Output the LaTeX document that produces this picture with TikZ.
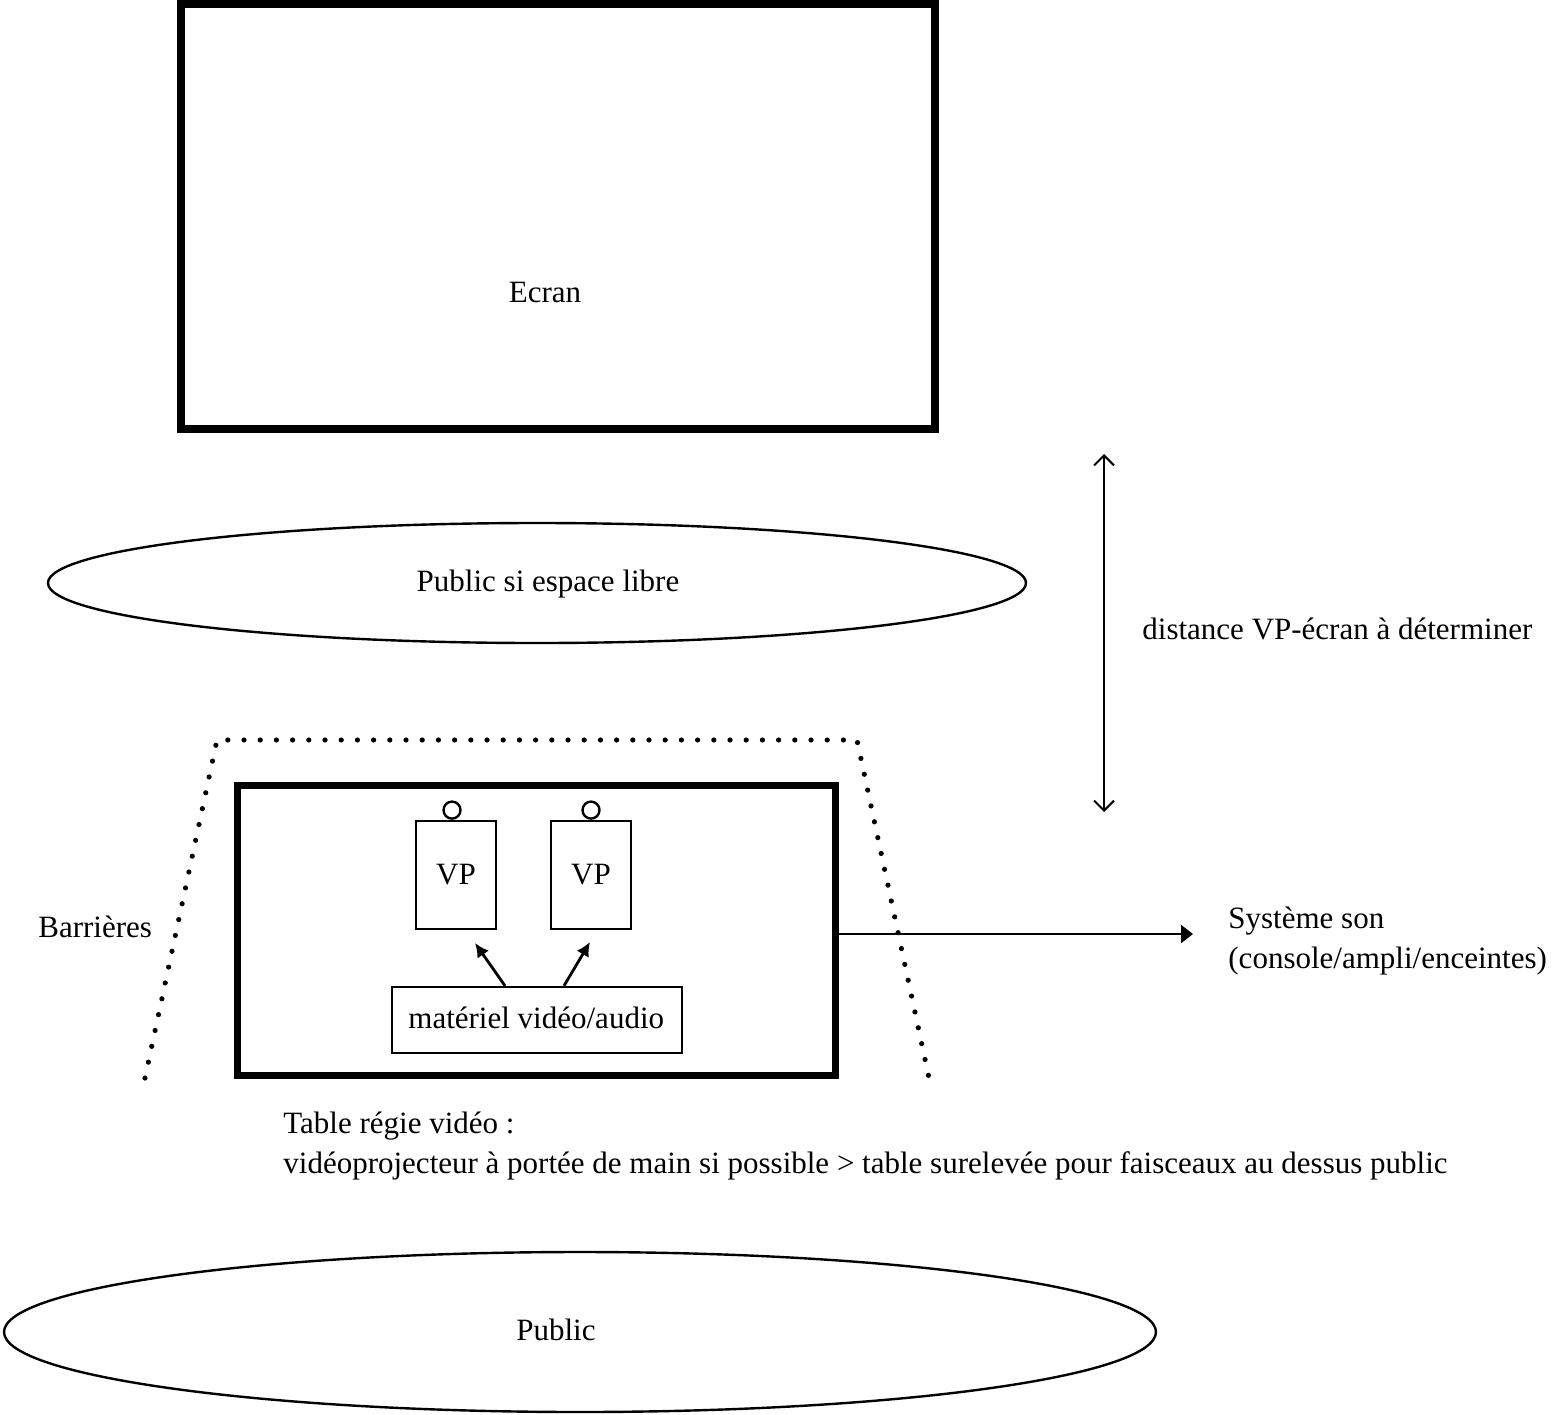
\documentclass[tikz,border=0pt]{standalone}
\usepackage{fontspec}
\setmainfont{Liberation Serif}
\usetikzlibrary{shapes,arrows.meta,positioning}

\begin{document}
\begin{tikzpicture}[
    x=0.5pt, y=-0.5pt,
    every node/.style={font=\fontsize{15.5}{20}\selectfont},
    heavybox/.style={rectangle, draw, line width=4pt, inner sep=0pt},
    thinbox/.style={rectangle, draw, line width=1.2pt, inner sep=0pt},
    zone/.style={ellipse, draw, line width=1.2pt, inner sep=0pt},
    txt/.style={anchor=base west, inner sep=0pt},
    barrier/.style={line width=2.6pt, line cap=round, dash pattern=on 0pt off 8.1pt},
    arrow/.style={-{Latex[length=7pt,width=7pt]}, line width=1.4pt},
    soundarrow/.style={-{Triangle[length=6pt,width=9pt]}, line width=1pt},
    dist/.style={{Straight Barb[length=5pt,width=10pt]}-{Straight Barb[length=5pt,width=10pt]}, line width=1pt}
]
\useasboundingbox (0,0) rectangle (1558,1414);

% Screen
\node[heavybox, minimum width=377pt, minimum height=212.5pt] (ecran) at (558,216.5) {};
\node[anchor=base, inner sep=0pt] (ecranlbl) at (545,302) {Ecran};

% Audience near the screen
\node[zone, minimum width=489pt, minimum height=60pt] (libre) at (537,583) {};
\node[anchor=base, inner sep=0pt] (librelbl) at (548,591) {Public si espace libre};

% Distance
\coordinate (dtop) at (1104,454);
\coordinate (dbot) at (1104,812);
\draw[dist] (dtop) -- (dbot);
\node[txt] (distance) at (1142,639) {distance VP-écran à déterminer};

% Barriers
\coordinate (bl) at (145,1078);
\coordinate (tl) at (217,740);
\coordinate (tr) at (857,740);
\coordinate (br) at (929,1078);
\draw[barrier] (bl) -- (tl) -- (tr) -- (br);
\node[txt] (barrieres) at (38,937) {Barrières};

% Video desk
\node[heavybox, line width=3.5pt, minimum width=299pt, minimum height=145pt] (regie) at (536,930) {};

% Projectors
\node[thinbox, minimum width=40pt, minimum height=54pt] (vp1) at (456,875) {VP};
\node[thinbox, minimum width=40pt, minimum height=54pt] (vp2) at (591,875) {VP};
\node[circle, draw, line width=1.2pt, minimum size=8.5pt, inner sep=0pt, above=0pt of vp1, xshift=-2pt] (lens1) {};
\node[circle, draw, line width=1.2pt, minimum size=8.5pt, inner sep=0pt, above=0pt of vp2] (lens2) {};

% Equipment
\node[thinbox, minimum width=145pt, minimum height=33pt] (materiel) at (537,1020) {};
\node[txt] (materiellbl) at (408,1028) {matériel vidéo/audio};
\coordinate (tip1) at (475,943);
\coordinate (tip2) at (590,942);
\draw[arrow] ([xshift=-16pt]materiel.north) -- (tip1);
\draw[arrow] ([xshift=13.5pt]materiel.north) -- (tip2);

% Sound
\coordinate (son) at (1193,934);
\draw[soundarrow] (regie.east |- son) -- (son);
\node[txt, align=left] (sonlbl) at (1228,968) {Système son\\(console/ampli/enceintes)};

% Notes
\node[txt, align=left] (note) at (283,1173) {Table régie vidéo :\\vidéoprojecteur à portée de main si possible > table surelevée pour faisceaux au dessus public};

% Audience
\node[zone, minimum width=576pt, minimum height=80pt] (public) at (580,1332) {};
\node[anchor=base, inner sep=0pt] (publiclbl) at (556,1340) {Public};

\end{tikzpicture}
\end{document}
